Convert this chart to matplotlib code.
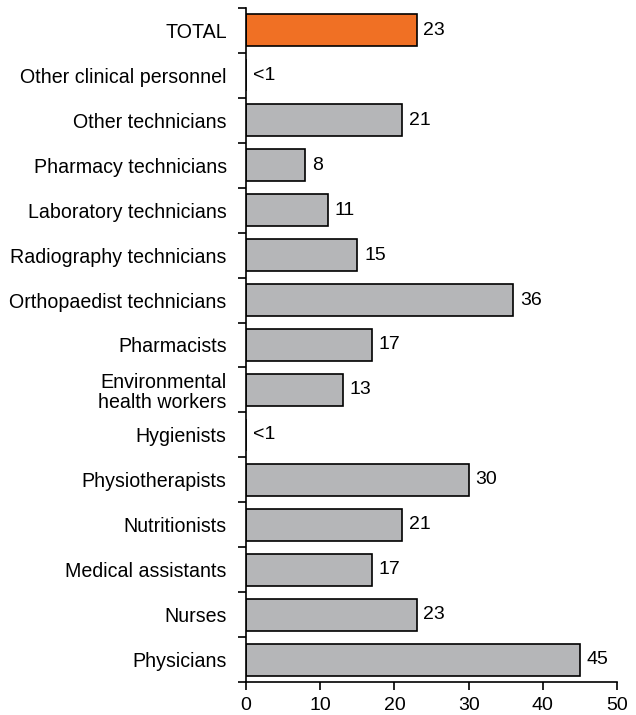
import numpy as np
import matplotlib.pyplot as plt

plt.rcParams['font.family'] = ['Liberation Sans', 'DejaVu Sans']

# Categories from top to bottom
categories = ['TOTAL', 'Other clinical personnel', 'Other technicians',
              'Pharmacy technicians', 'Laboratory technicians',
              'Radiography technicians', 'Orthopaedist technicians',
              'Pharmacists', 'Environmental\nhealth workers', 'Hygienists',
              'Physiotherapists', 'Nutritionists', 'Medical assistants',
              'Nurses', 'Physicians']
values = [23, 0, 21, 8, 11, 15, 36, 17, 13, 0, 30, 21, 17, 23, 45]
value_labels = ['23', '<1', '21', '8', '11', '15', '36', '17', '13', '<1',
                '30', '21', '17', '23', '45']
x_ticks = [0, 10, 20, 30, 40, 50]

fig = plt.figure(figsize=(6.36, 7.15), dpi=100)
ax = fig.add_axes([0.387, 0.046, 0.583, 0.943])

n = len(categories)
y = np.arange(n)
colors = ['#F07024'] + ['#B5B6B8'] * (n - 1)
ax.barh(y, values, height=0.71, color=colors, edgecolor='black', linewidth=1.2)

for yi, v, lab in zip(y, values, value_labels):
    ax.text(v + 0.9, yi, lab, va='center', ha='left', fontsize=14)

ax.set_ylim(n - 0.5, -0.5)
ax.set_xlim(0, 50)
ax.set_yticks(y)
ax.set_yticklabels(categories, fontsize=14.1, linespacing=1.1)
ax.set_yticks(np.arange(n + 1) - 0.5, minor=True)
ax.tick_params(axis='y', which='major', length=0, pad=14)
ax.tick_params(axis='y', which='minor', length=6, width=1.2)
ax.set_xticks(x_ticks)
ax.tick_params(axis='x', labelsize=14, length=6, width=1.2, pad=5)

for s in ['top', 'right']:
    ax.spines[s].set_visible(False)
for s in ['left', 'bottom']:
    ax.spines[s].set_linewidth(1.2)

fig.savefig('out.png', dpi=100)
